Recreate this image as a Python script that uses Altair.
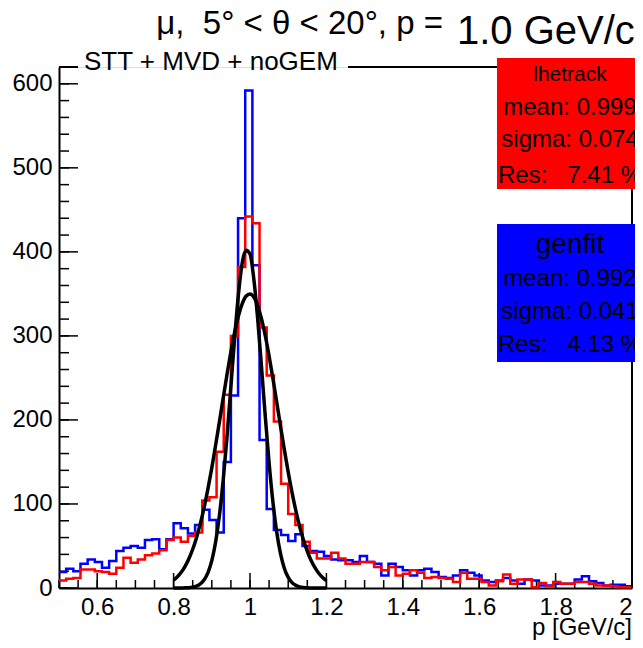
import altair as alt
import numpy as np
import pandas as pd

# ---------------- data ----------------
p_lo, p_hi, n_bins = 0.5, 2.0, 80

lhetrack_counts = [9, 11, 12, 22, 22, 20, 19, 17, 24, 36,
                   30, 34, 39, 41, 45, 57, 60, 55, 62, 66,
                   104, 108, 162, 230, 300, 382, 442, 434, 310, 253,
                   198, 124, 88, 75, 55, 42, 35, 35, 42, 35,
                   29, 29, 31, 31, 25, 21, 25, 15, 17, 21,
                   18, 12, 13, 12, 11, 7, 18, 11, 11, 7,
                   3, 8, 16, 5, 10, 10, 1, 6, 2, 7,
                   5, 5, 7, 7, 5, 3, 3, 2, 1, 1]

genfit_counts = [19, 23, 20, 29, 34, 31, 24, 32, 44, 48,
                 50, 48, 57, 58, 46, 58, 77, 71, 65, 75,
                 93, 81, 66, 150, 229, 440, 592, 384, 176, 94,
                 69, 63, 56, 64, 50, 44, 43, 38, 34, 33,
                 33, 31, 38, 31, 29, 15, 29, 25, 21, 15,
                 21, 23, 19, 13, 12, 15, 21, 18, 15, 9,
                 7, 9, 12, 9, 5, 10, 9, 3, 3, 5,
                 5, 5, 10, 14, 8, 6, 3, 4, 4, 2]

fit_p = [0.80, 0.81, 0.82, 0.83, 0.84, 0.85, 0.86, 0.87, 0.88, 0.89,
         0.90, 0.91, 0.92, 0.93, 0.94, 0.95, 0.96, 0.97, 0.98, 0.99,
         1.00, 1.01, 1.02, 1.03, 1.04, 1.05, 1.06, 1.07, 1.08, 1.09,
         1.10, 1.11, 1.12, 1.13, 1.14, 1.15, 1.16, 1.17, 1.18, 1.19, 1.20]

lhetrack_fit = [9.4, 13.4, 18.7, 25.8, 34.8, 46.1, 59.9, 76.6, 96.0, 118.3,
                143.0, 169.8, 198.0, 226.6, 254.7, 281.1, 304.7, 324.2, 338.7, 347.5,
                350.0, 346.2, 336.2, 320.6, 300.2, 276.1, 249.2, 220.9, 192.3, 164.4,
                137.9, 113.7, 92.0, 73.1, 57.0, 43.7, 32.8, 24.3, 17.6, 12.5, 8.8]

genfit_fit = [0.0, 0.0, 0.1, 0.2, 0.4, 1.0, 2.3, 4.8, 9.7, 18.3,
              32.6, 54.8, 86.6, 129.1, 181.2, 239.7, 298.6, 350.7, 388.0, 402.0,
              397.4, 367.8, 320.8, 263.6, 204.1, 148.9, 102.4, 66.3, 40.5, 23.3,
              12.6, 6.4, 3.1, 1.4, 0.6, 0.2, 0.1, 0.0, 0.0, 0.0, 0.0]

x_labels = [0.6, 0.8, 1.0, 1.2, 1.4, 1.6, 1.8, 2.0]
y_labels = [0, 100, 200, 300, 400, 500, 600]

NB = "\u00a0"
title_left = "\u03bc," + NB + NB + "5\u00b0 < \u03b8 < 20\u00b0, p ="
title_right = "1.0 GeV/c"
hist_title = "STT + MVD + noGEM"
x_title = "p [GeV/c]"
lhe_box = ["lhetrack", "mean: 0.999", "sigma: 0.074", "Res:" + NB * 3 + "7.41 %"]
gen_box = ["genfit", "mean: 0.992", "sigma: 0.041", "Res:" + NB * 3 + "4.13 %"]

# ---------------- build ----------------
W, H = 573, 521
FONT = "Liberation Sans"
edges = np.linspace(p_lo, p_hi, n_bins + 1)

def hist_df(counts):
    return pd.DataFrame({"p": edges, "n": list(counts) + [counts[-1]]})

xs = alt.Scale(domain=[p_lo, p_hi], nice=False, zero=False)
ys = alt.Scale(domain=[0, 620], nice=False)

x_axis = alt.Axis(values=x_labels, format="~g", ticks=False, tickSize=0, grid=False,
                  labelFontSize=24, labelPadding=7, labelFont=FONT, labelColor="black",
                  domainColor="black", domainWidth=2, title=None)
y_axis = alt.Axis(values=y_labels, ticks=False, tickSize=0, grid=False,
                  labelFontSize=24, labelPadding=7, labelFont=FONT, labelColor="black",
                  domainColor="black", domainWidth=2, title=None)

base_axes = alt.Chart(hist_df(genfit_counts)).mark_line(opacity=0).encode(
    x=alt.X("p:Q", scale=xs, axis=x_axis),
    y=alt.Y("n:Q", scale=ys, axis=y_axis),
)

def hist_layer(counts, color):
    return alt.Chart(hist_df(counts)).mark_line(
        interpolate="step-after", color=color, strokeWidth=2.5
    ).encode(x=alt.X("p:Q", scale=xs), y=alt.Y("n:Q", scale=ys))

blue_h = hist_layer(genfit_counts, "#0000ff")
red_h = hist_layer(lhetrack_counts, "#ff0000")

def fit_layer(vals):
    return alt.Chart(pd.DataFrame({"p": fit_p, "n": vals})).mark_line(
        interpolate="monotone", color="black", strokeWidth=3.5
    ).encode(x=alt.X("p:Q", scale=xs), y=alt.Y("n:Q", scale=ys))

fit_wide = fit_layer(lhetrack_fit)
fit_narrow = fit_layer(genfit_fit)

# inward ticks
x_major = pd.DataFrame({"p": np.round(np.arange(0.6, 2.0001, 0.2), 3)})
x_minor = pd.DataFrame({"p": np.round(np.arange(0.5, 2.0001, 0.05), 3)})
y_major = pd.DataFrame({"n": np.arange(0, 601, 100)})
y_minor = pd.DataFrame({"n": np.arange(0, 621, 20)})

tick_style = dict(color="black", strokeWidth=1.5)
xt_major = alt.Chart(x_major).mark_rule(**tick_style).encode(
    x=alt.X("p:Q", scale=xs), y=alt.value(H), y2=alt.value(H - 15))
xt_minor = alt.Chart(x_minor).mark_rule(**tick_style).encode(
    x=alt.X("p:Q", scale=xs), y=alt.value(H), y2=alt.value(H - 8))
yt_major = alt.Chart(y_major).mark_rule(**tick_style).encode(
    y=alt.Y("n:Q", scale=ys), x=alt.value(0), x2=alt.value(19))
yt_minor = alt.Chart(y_minor).mark_rule(**tick_style).encode(
    y=alt.Y("n:Q", scale=ys), x=alt.value(0), x2=alt.value(10))

one = pd.DataFrame({"k": [0]})
frame_style = dict(color="black", strokeWidth=2)
top1 = alt.Chart(one).mark_rule(**frame_style).encode(
    x=alt.value(0), x2=alt.value(19), y=alt.value(0))
top2 = alt.Chart(one).mark_rule(**frame_style).encode(
    x=alt.value(289), x2=alt.value(440), y=alt.value(0))
right = alt.Chart(one).mark_rule(**frame_style).encode(
    x=alt.value(W), y=alt.value(0), y2=alt.value(H))

def txt(s, x, y, size, align="left", font=FONT):
    return alt.Chart(pd.DataFrame({"t": [s]})).mark_text(
        align=align, baseline="alphabetic", font=font, fontSize=size, color="black"
    ).encode(text="t:N", x=alt.value(x), y=alt.value(y))

def box(y0, y1, color):
    return alt.Chart(one).mark_rect(color=color).encode(
        x=alt.value(438), x2=alt.value(600), y=alt.value(y0), y2=alt.value(y1))

red_box = box(-9, 122, "#ff0000")
blue_box = box(157, 295, "#0000ff")

cx = 511
texts = [
    txt(title_left, 384, -33, 33, "right"),
    txt(title_right, 398, -23, 40),
    txt(hist_title, 25, 3, 26),
    txt(x_title, W, 568, 24, "right"),
    txt(lhe_box[0], cx, 14, 21, "center"),
    txt(lhe_box[1], cx, 48, 24, "center"),
    txt(lhe_box[2], cx, 80, 24, "center"),
    txt(lhe_box[3], cx, 116, 24, "center"),
    txt(gen_box[0], cx, 186, 28, "center"),
    txt(gen_box[1], cx, 219, 24, "center"),
    txt(gen_box[2], cx, 252, 24, "center"),
    txt(gen_box[3], cx, 285, 24, "center"),
]

chart = alt.layer(
    base_axes, xt_minor, xt_major, yt_minor, yt_major,
    blue_h, red_h, fit_wide, fit_narrow,
    top1, top2, right, red_box, blue_box, *texts
).properties(
    width=W, height=H,
    padding={"left": 51, "top": 59, "right": 3, "bottom": 52},
    autosize=alt.AutoSizeParams(type="none"),
).configure_view(stroke=None).configure(background="white")

chart.save("out.html", embed_options={"renderer": "svg", "actions": False})
